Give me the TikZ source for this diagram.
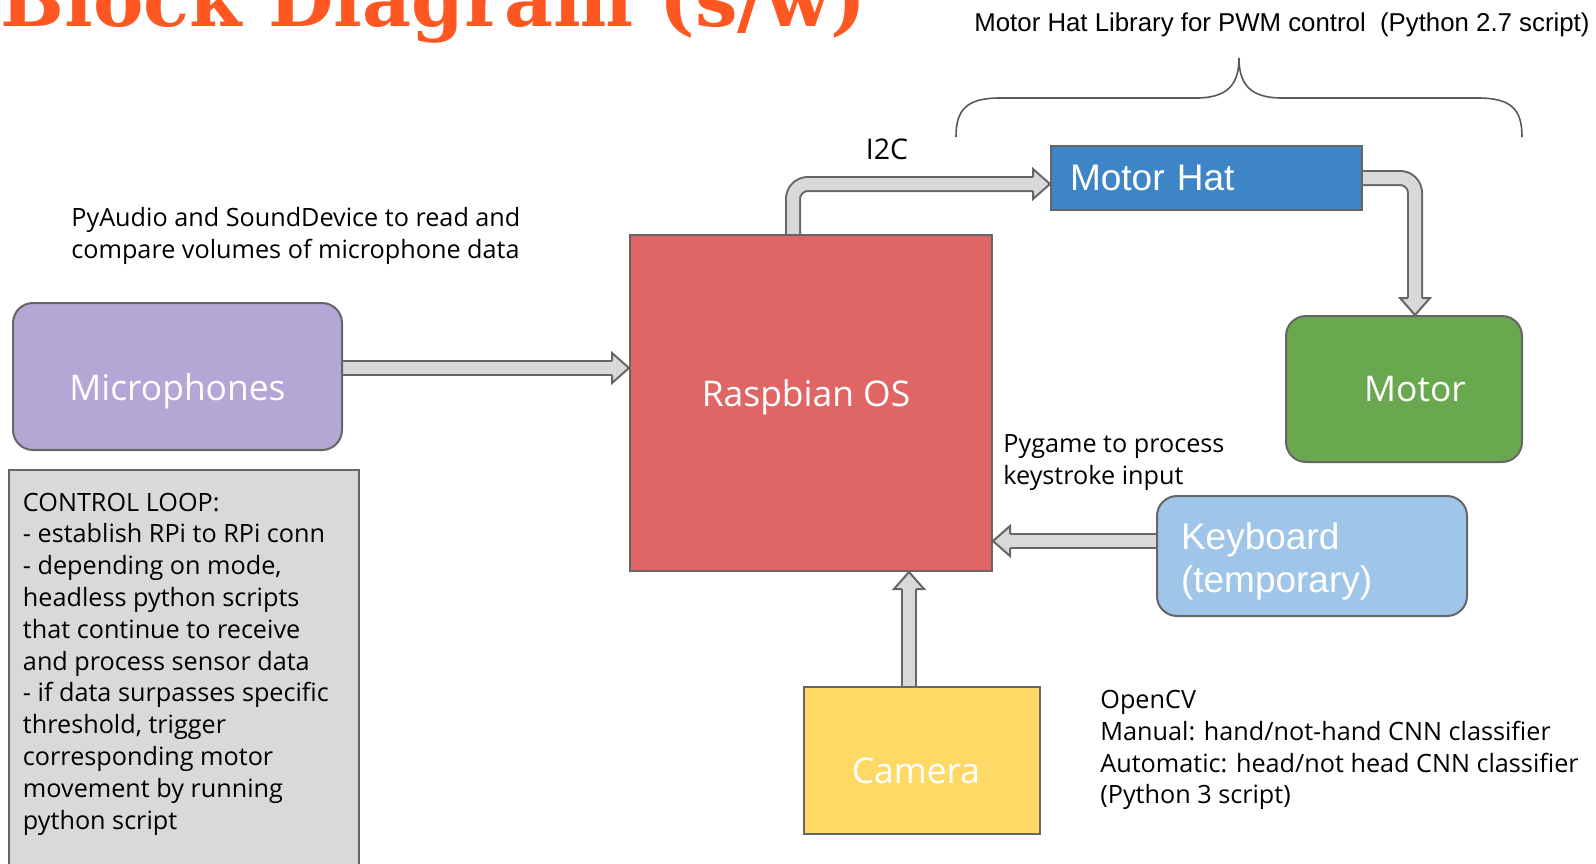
\documentclass[tikz,border=0pt]{standalone}
\usepackage{fontspec}
\usepackage{graphicx}
\usepackage{tikz}
\usetikzlibrary{calc,backgrounds}
\setmainfont{Open Sans}
\newfontfamily\arialfont{Liberation Sans}
\newfontfamily\slabfont{DejaVu Serif}

\definecolor{rpi-red}{HTML}{E06666}
\definecolor{mic-purple}{HTML}{B4A7D6}
\definecolor{hat-blue}{HTML}{3D85C6}
\definecolor{motor-green}{HTML}{6AA84F}
\definecolor{kbd-blue}{HTML}{9FC5E8}
\definecolor{cam-yellow}{HTML}{FFD966}
\definecolor{loop-gray}{HTML}{D9D9D9}
\definecolor{box-line}{HTML}{666666}
\definecolor{title-orange}{HTML}{FF5722}
\definecolor{brace-gray}{HTML}{595959}

\tikzset{
    box/.style = {draw=box-line, line width=1pt, rectangle, inner sep=0pt},
    round-box/.style = {box, rounded corners=10pt},
    box-text/.style = {text=white, inner sep=0pt, font=\fontsize{17.7}{20}\selectfont},
    arial-text/.style = {text=white, align=left, inner sep=0pt, font=\arialfont\fontsize{18.5}{21.5}\selectfont},
    note/.style = {align=left, inner sep=0pt, anchor=base west, font=\fontsize{12.6}{15.9}\selectfont},
    loop-box/.style = {box, fill=loop-gray, inner xsep=7pt, inner ysep=11.4pt, font=\fontsize{12.6}{15.9}\selectfont},
    shaft/.style = {draw=box-line, line width=1pt, double=loop-gray, double distance=6pt},
    blockhead/.pic = {\filldraw[fill=loop-gray, draw=box-line, line width=1pt, line join=miter]
        (-17,7) -- (-17,15) -- (0,0) -- (-17,-15) -- (-17,-7);},
}

\begin{document}
\begin{tikzpicture}[x=0.5pt, y=-0.5pt]
\useasboundingbox (0,0) rectangle (1596,863);
\clip (0,0) rectangle (1596,863);

\node[anchor=base west, inner sep=0pt, text=title-orange] (title) at (0,26)
    {\resizebox{433pt}{!}{\slabfont\bfseries\fontsize{40}{48}\selectfont Block Diagram (s/w)}};

\node[box, fill=rpi-red, minimum width=181pt, minimum height=168pt,
    label={[box-text, xshift=-2.5pt, yshift=3pt]center:Raspbian OS}] (rpi) at (811,403) {};
\node[round-box, fill=mic-purple, minimum width=164.5pt, minimum height=73.5pt,
    label={[box-text, yshift=-7.5pt]center:Microphones}] (mic) at (177.5,376.5) {};
\node[box, fill=hat-blue, minimum width=155.5pt, minimum height=32pt, text width=136.5pt,
    arial-text] (hat) at (1206.5,178) {Motor Hat};
\node[round-box, fill=motor-green, minimum width=118pt, minimum height=73pt,
    label={[box-text, xshift=5.5pt]center:Motor}] (motor) at (1404,389) {};
\node[round-box, fill=kbd-blue, minimum width=155pt, minimum height=60pt,
    label={[arial-text, text width=131pt, yshift=-2.5pt]center:Keyboard\\(temporary)}] (kbd) at (1312,556) {};
\node[box, fill=cam-yellow, minimum width=118pt, minimum height=73.5pt,
    label={[box-text, xshift=-3pt, yshift=-5.25pt]center:Camera}] (cam) at (922,760.5) {};

\node[loop-box, anchor=north west] (loop) at (8,469) {\begin{minipage}[t][190pt][t]{161pt}
    CONTROL LOOP:\\
    - establish RPi to RPi conn\\
    - depending on mode,\\
    headless python scripts\\
    that continue to receive\\
    and process sensor data\\
    - if data surpasses specific\\
    threshold, trigger\\
    corresponding motor\\
    movement by running\\
    python script
\end{minipage}};

\node[note] (audio-note) at (71,258.3) {PyAudio and SoundDevice to read and\\compare volumes of microphone data};
\node[note] (pygame-note) at (1003,484.3) {Pygame to process\\keystroke input};
\node[note] (cv-note) at (1100,803.9) {OpenCV\\Manual: hand/not-hand CNN classifier\\Automatic: head/not head CNN classifier\\(Python 3 script)};
\node[note, anchor=center, font=\fontsize{14.25}{16}\selectfont] (i2c) at (887,149) {I2C};
\node[note, font=\arialfont\fontsize{12.9}{15}\selectfont] (hat-lib) at (974,31)
    {Motor Hat Library for PWM control\ \ (Python 2.7 script)};

% brace over the motor hat
\draw[brace-gray, line width=0.8pt] (956,137) .. controls (956,110) and (966,98) .. (1000,98)
    -- (1196,98) .. controls (1228,98) and (1239,84) .. (1239,58)
    .. controls (1239,84) and (1250,98) .. (1282,98)
    -- (1478,98) .. controls (1512,98) and (1522,110) .. (1522,137);

\begin{scope}[on background layer]
\coordinate (mic-out) at ([yshift=4.25pt]mic.east);
\draw[shaft] (mic-out) -- ($(mic-out -| rpi.west)+(-16.5,0)$);
\pic at (mic-out -| rpi.west) {blockhead};

\coordinate (kbd-out) at ([yshift=7.5pt]kbd.west);
\draw[shaft] (kbd-out) -- ($(kbd-out -| rpi.east)+(16.5,0)$);
\pic[rotate=180] at (kbd-out -| rpi.east) {blockhead};

\coordinate (cam-out) at ([xshift=-6.5pt]cam.north);
\draw[shaft] (cam-out) -- ($(cam-out |- rpi.south)+(0,16.5)$);
\pic[rotate=90] at (cam-out |- rpi.south) {blockhead};

\coordinate (rpi-out) at ([xshift=-9pt]rpi.north);
\coordinate (hat-in) at ([yshift=-3pt]hat.west);
\draw[shaft, rounded corners=7.5pt] (rpi-out) |- ($(hat-in)+(-16.5,0)$);
\pic at (hat-in) {blockhead};

\coordinate (motor-in) at ([xshift=5.5pt]motor.north);
\draw[shaft, rounded corners=7.5pt] (hat.east) -| ($(motor-in)+(0,-16.5)$);
\pic[rotate=-90] at (motor-in) {blockhead};
\end{scope}
\end{tikzpicture}
\end{document}
